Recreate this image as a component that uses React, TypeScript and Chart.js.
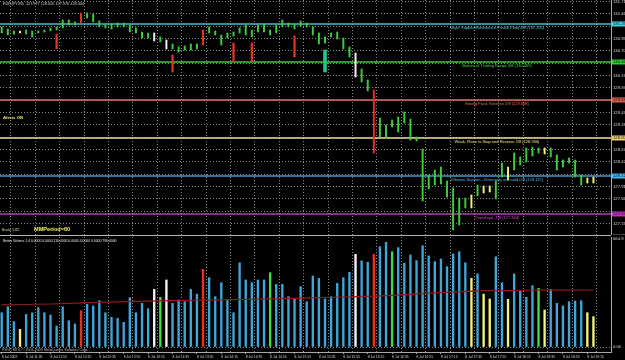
import React, { useEffect, useRef } from 'react';
import { Chart, registerables } from 'chart.js';

Chart.register(...registerables);

// ---------- DATA ----------
const barHigh = [
  131.188, 131.147, 131.106, 131.106, 131.127, 131.106, 131.106, 131.127, 131.168, 131.188,
  131.332, 131.332, 131.291, 131.476, 131.476, 131.456, 131.312, 131.229, 131.250, 131.271,
  131.271, 131.229, 131.168, 131.086, 131.065, 131.065, 130.983, 130.921, 130.839, 130.777,
  130.798, 130.839, 130.839, 131.127, 131.188, 131.106, 131.024, 131.065, 131.086, 131.168,
  131.229, 131.127, 131.229, 131.250, 131.127, 131.229, 131.332, 131.271, 131.250, 131.312,
  131.271, 131.188, 131.065, 130.983, 131.065, 131.086, 130.962, 130.777, 130.654, 130.325,
  130.099, 129.893, 129.317, 129.173, 129.276, 129.338, 129.441, 129.297, 128.927, 128.680,
  128.145, 128.248, 128.310, 128.022, 127.879, 127.673, 127.673, 127.735, 127.940, 127.920,
  127.920, 128.022, 128.392, 128.310, 128.598, 128.516, 128.701, 128.721, 128.701, 128.701,
  128.701, 128.557, 128.454, 128.495, 128.454, 128.145, 128.084, 128.104,
];
const barLow = [
  131.065, 131.024, 131.044, 131.065, 131.044, 130.983, 131.065, 131.086, 131.106, 131.127,
  131.168, 131.229, 131.229, 131.271, 131.373, 131.291, 131.188, 131.168, 131.147, 131.188,
  131.188, 131.086, 131.065, 130.962, 130.962, 130.901, 130.880, 130.736, 130.736, 130.674,
  130.715, 130.715, 130.736, 130.818, 131.065, 131.024, 130.818, 130.962, 131.003, 131.065,
  131.024, 130.983, 131.086, 131.086, 131.024, 131.065, 131.188, 131.188, 131.147, 131.209,
  131.188, 131.024, 130.839, 130.859, 130.983, 130.942, 130.736, 130.572, 130.160, 130.058,
  129.873, 128.598, 128.927, 128.906, 129.132, 129.029, 129.215, 128.865, 128.844, 127.611,
  127.858, 127.940, 127.961, 127.694, 127.015, 127.118, 127.468, 127.468, 127.714, 127.776,
  127.796, 127.653, 128.104, 128.043, 128.248, 128.351, 128.413, 128.536, 128.598, 128.577,
  128.516, 128.248, 128.310, 128.392, 128.104, 127.940, 127.981, 127.981,
];
// volume class of each bar: n normal, r climax, w high-volume churn, g churn, y low volume
const barType = [
  'n', 'n', 'n', 'y', 'n', 'n', 'n', 'n', 'n', 'n',
  'n', 'n', 'n', 'r', 'n', 'n', 'n', 'n', 'n', 'n',
  'n', 'n', 'n', 'n', 'n', 'w', 'g', 'w', 'n', 'n',
  'n', 'n', 'n', 'r', 'n', 'n', 'n', 'n', 'n', 'n',
  'n', 'n', 'n', 'n', 'g', 'n', 'n', 'n', 'n', 'n',
  'n', 'n', 'n', 'n', 'n', 'n', 'n', 'n', 'w', 'n',
  'n', 'r', 'n', 'n', 'g', 'n', 'n', 'n', 'n', 'n',
  'n', 'n', 'n', 'n', 'n', 'n', 'n', 'y', 'n', 'y',
  'y', 'n', 'n', 'y', 'n', 'n', 'n', 'n', 'g', 'y',
  'n', 'n', 'n', 'n', 'n', 'n', 'y', 'y',
];
const volume = [
  211, 248, 156, 109, 201, 211, 242, 211, 197, 129,
  248, 162, 142, 224, 263, 253, 285, 211, 183, 177,
  152, 304, 211, 269, 236, 355, 306, 413, 269, 290,
  279, 355, 326, 479, 427, 310, 396, 290, 211, 519,
  413, 396, 413, 413, 458, 386, 386, 310, 300, 372,
  279, 437, 423, 296, 310, 392, 427, 460, 571, 530,
  522, 571, 618, 645, 587, 612, 516, 567, 532, 624,
  561, 526, 542, 495, 573, 587, 519, 423, 450, 326,
  296, 556, 396, 294, 450, 345, 306, 378, 362, 228,
  355, 269, 253, 279, 283, 285, 211, 187,
];
// extra indicator bars drawn in the price window
const shadowIndex = [9, 28, 38, 41, 48, 53];
const shadowHigh = [131.044, 130.613, 130.859, 130.859, 131.003, 130.715];
const shadowLow = [130.736, 130.263, 130.469, 130.489, 130.572, 130.263];
const shadowType = ['r', 'r', 'r', 'r', 'r', 't'];
// volume moving average (read at a few bars)
const maIndex = [0, 8, 16, 24, 32, 40, 48, 56, 64, 72, 80, 88, 97];
const maValue = [259, 265, 275, 283, 288, 293, 300, 308, 318, 335, 347, 350, 351];
// Murrey math levels
const murreyLevels = [131.25, 130.469, 129.688, 128.906, 128.125, 127.344];
const murreyLabels = [
  'Major Support/Resistance Pivotal Point 4/8 (131.250)',
  'Bottom of Trading Range 3/8 (130.469)',
  'Strong Pivot, Reverse 2/8 (129.688)',
  'Weak, Place to Stop and Reverse 1/8 (128.906)',
  'Ultimate Support - Extremely oversold 0/8 (128.125)',
  'Overshoot -1/8 (127.344)',
];
const priceTicks = [
  131.71, 131.46, 131.2, 130.95, 130.7, 130.44, 130.19, 129.94, 129.68, 129.43,
  129.18, 128.92, 128.67, 128.42, 128.16, 127.91, 127.66, 127.4, 127.15, 126.9,
];
const volumeTicks = [0, 664.9];
const timeLabelIndex = [0, 4, 8, 12, 16, 20, 24, 28, 32, 36, 40, 44, 48, 52, 56, 60, 64, 68, 72, 76, 80, 84, 88, 92, 96];
const timeLabels = [
  '8 Jul 2009', '8 Jul 11:35', '8 Jul 11:55', '8 Jul 12:15', '8 Jul 12:35', '8 Jul 12:55',
  '8 Jul 13:15', '8 Jul 13:35', '8 Jul 13:55', '8 Jul 14:15', '8 Jul 14:35', '8 Jul 14:55',
  '8 Jul 15:15', '8 Jul 15:35', '8 Jul 15:55', '8 Jul 16:15', '8 Jul 16:35', '8 Jul 16:55',
  '8 Jul 17:15', '8 Jul 17:35', '8 Jul 17:55', '8 Jul 18:15', '8 Jul 18:35', '8 Jul 18:55',
  '8 Jul 19:15',
];
const titleText = 'EURJPY,M5  127.977 128.005 127.976 128.004';
const volumeTitle = 'Better Volume 1.4 0.0000 0.0000 116.0000 0.0000 0.0000 0.0000 796.0000';
const copyright = 'FXDR MT4, \u00a9 2001-2009 MetaQuotes Software Corp.';

// ---------- STYLE ----------
const FONT = 'Liberation Sans';
const X_MIN = -0.28;
const X_MAX = 99.88;
const PRICE_MIN = 126.912;
const PRICE_MAX = 131.743;
const VOL_MIN = -30.8;
const VOL_MAX = 677.6;
const GRID = '#8a8a8a';
const AXIS = '#a8a8a8';
const priceColorOf: Record<string, string> = { n: '#3ccc3c', g: '#3ccc3c', r: '#e8321e', w: '#f4f4f4', y: '#f2f27a', t: '#22c488' };
const volColorOf: Record<string, string> = { n: '#3ea6da', g: '#3ee03e', r: '#e8321e', w: '#f4f4f4', y: '#f2f27a' };
const murreyLineColors = ['#3cc0d0', '#3cc83c', '#e07060', '#e8dc98', '#4a98c8', '#b040b0'];
const murreyTextColors = ['#50d0e0', '#40d840', '#f07060', '#f0e490', '#5ab0e8', '#d050d0'];
const murreyBoxColors = ['#40d0e0', '#30d030', '#e06050', '#e8d070', '#40b8f0', '#c030c0'];
const gridIndex: number[] = [];
for (let k = 0; k < 25; k++) gridIndex.push(1.5 + 4 * k);

const noPadX = (s: any) => { s.paddingLeft = 0; s.paddingRight = 0; };
const noPadY = (s: any) => { s.paddingTop = 0; s.paddingBottom = 0; };

function gridAxis() {
  return {
    type: 'linear' as const,
    axis: 'x' as const,
    position: 'bottom' as const,
    offset: false,
    min: X_MIN,
    max: X_MAX,
    afterBuildTicks: (s: any) => { s.ticks = gridIndex.map((v) => ({ value: v })); },
    afterFit: (s: any) => { s.height = 0; noPadX(s); },
    ticks: { display: false },
    grid: { color: GRID, lineWidth: 1, drawTicks: false, offset: false },
    border: { display: false, dash: [1, 2] },
  };
}

export default function App() {
  const topRef = useRef<HTMLCanvasElement>(null);
  const botRef = useRef<HTMLCanvasElement>(null);

  useEffect(() => {
    const topTexts = {
      id: 'topTexts',
      afterDraw(chart: any) {
        const { ctx, chartArea } = chart;
        const y = chart.scales.y;
        ctx.save();
        ctx.textAlign = 'center';
        ctx.textBaseline = 'top';
        ctx.font = `4px "${FONT}"`;
        murreyLevels.forEach((lv, k) => {
          const py = y.getPixelForValue(lv);
          ctx.fillStyle = murreyTextColors[k];
          ctx.fillText(murreyLabels[k], chartArea.right - 114, py + 1.5);
        });
        ctx.textAlign = 'left';
        ctx.textBaseline = 'middle';
        ctx.font = `4.2px "${FONT}"`;
        murreyLevels.forEach((lv, k) => {
          const py = y.getPixelForValue(lv);
          ctx.fillStyle = murreyBoxColors[k];
          ctx.fillRect(chartArea.right + 1, py - 2.5, 14, 5);
          ctx.fillStyle = '#101010';
          ctx.fillText(lv.toFixed(3), chartArea.right + 2, py);
        });
        ctx.textBaseline = 'top';
        ctx.font = `3.8px "${FONT}"`;
        ctx.fillStyle = '#d0d0d0';
        ctx.fillText(titleText, 3, 2);
        ctx.font = `bold 4.4px "${FONT}"`;
        ctx.fillStyle = '#e8e870';
        ctx.fillText('Alerts ON', 3, 116);
        ctx.font = `3.8px "${FONT}"`;
        ctx.fillStyle = '#d8d8a8';
        ctx.fillText('Brats 1.82', 2, 228.5);
        ctx.font = `bold 5.6px "${FONT}"`;
        ctx.fillStyle = '#f0f060';
        ctx.fillText('MMPeriod=60', 34, 226.5);
        ctx.restore();
      },
    };

    const top = new Chart(topRef.current as HTMLCanvasElement, {
      type: 'bar',
      data: {
        datasets: [
          ...murreyLevels.map((lv, k) => ({
            type: 'line' as const,
            xAxisID: 'x',
            yAxisID: 'y',
            data: [{ x: X_MIN, y: lv }, { x: X_MAX, y: lv }],
            borderColor: murreyLineColors[k],
            borderWidth: 1.6,
            pointRadius: 0,
            order: 5,
          })),
          {
            type: 'bar' as const,
            xAxisID: 'x',
            yAxisID: 'y',
            data: barHigh.map((h, i) => ({ x: i, y: [barLow[i], h] })),
            backgroundColor: barType.map((t) => priceColorOf[t]),
            barThickness: 1.3,
            grouped: false,
            order: 1,
          },
          {
            type: 'bar' as const,
            xAxisID: 'x',
            yAxisID: 'y',
            data: shadowIndex
              .map((x, k) => ({ x, y: [shadowLow[k], shadowHigh[k]], t: shadowType[k] }))
              .filter((d) => d.t === 'r'),
            backgroundColor: priceColorOf.r,
            barThickness: 1.6,
            grouped: false,
            order: 2,
          },
          {
            type: 'bar' as const,
            xAxisID: 'x',
            yAxisID: 'y',
            data: shadowIndex
              .map((x, k) => ({ x, y: [shadowLow[k], shadowHigh[k]], t: shadowType[k] }))
              .filter((d) => d.t === 't'),
            backgroundColor: priceColorOf.t,
            barThickness: 3,
            grouped: false,
            order: 2,
          },
        ] as any,
      },
      options: {
        responsive: false,
        animation: false,
        devicePixelRatio: 1,
        layout: { padding: 0 },
        plugins: { legend: { display: false }, tooltip: { enabled: false } },
        scales: {
          x: { type: 'linear', offset: false, min: X_MIN, max: X_MAX, display: false },
          xg: gridAxis() as any,
          y: {
            type: 'linear',
            position: 'right',
            min: PRICE_MIN,
            max: PRICE_MAX,
            afterBuildTicks: (s: any) => { s.ticks = priceTicks.map((v) => ({ value: v })); },
            afterFit: (s: any) => { s.width = 14; noPadY(s); },
            ticks: {
              color: '#d8d8d8',
              font: { family: FONT, size: 4.2 },
              padding: 2,
              autoSkip: false,
              callback: (v: any) =>
                murreyLevels.some((lv) => Math.abs(lv - Number(v)) < 0.1) ? '' : Number(v).toFixed(3),
            },
            grid: { color: GRID, drawTicks: false },
            border: { color: AXIS, dash: [1, 2] },
          },
        },
      },
      plugins: [topTexts],
    });

    const botTexts = {
      id: 'botTexts',
      afterDraw(chart: any) {
        const { ctx, chartArea } = chart;
        ctx.save();
        ctx.textAlign = 'left';
        ctx.textBaseline = 'top';
        ctx.font = `3.4px "${FONT}"`;
        ctx.fillStyle = '#e8e8e8';
        ctx.fillText(volumeTitle, 3, chartArea.top + 2);
        ctx.textBaseline = 'bottom';
        ctx.font = `3.6px "${FONT}"`;
        ctx.fillStyle = '#b8b8b8';
        ctx.fillText(copyright, 2, chartArea.bottom - 0.5);
        ctx.restore();
      },
    };

    const bot = new Chart(botRef.current as HTMLCanvasElement, {
      type: 'bar',
      data: {
        datasets: [
          {
            type: 'bar' as const,
            xAxisID: 'x',
            yAxisID: 'y',
            data: volume.map((v, i) => ({ x: i, y: v })),
            backgroundColor: barType.map((t) => volColorOf[t]),
            barThickness: 1.7,
            grouped: false,
            order: 2,
          },
          {
            type: 'line' as const,
            xAxisID: 'x',
            yAxisID: 'y',
            data: maIndex.map((x, k) => ({ x, y: maValue[k] })),
            borderColor: '#8e1c1c',
            borderWidth: 1.2,
            pointRadius: 0,
            tension: 0.3,
            order: 1,
          },
        ] as any,
      },
      options: {
        responsive: false,
        animation: false,
        devicePixelRatio: 1,
        layout: { padding: { top: 1, left: 0, right: 0, bottom: 0 } },
        plugins: { legend: { display: false }, tooltip: { enabled: false } },
        scales: {
          x: {
            type: 'linear',
            position: 'bottom',
            offset: false,
            min: X_MIN,
            max: X_MAX,
            afterBuildTicks: (s: any) => { s.ticks = timeLabelIndex.map((v) => ({ value: v })); },
            afterFit: (s: any) => { s.height = 8; noPadX(s); },
            ticks: {
              color: '#d8d8d8',
              font: { family: FONT, size: 3.4 },
              align: 'start',
              autoSkip: false,
              maxRotation: 0,
              padding: 1,
              callback: (v: any) => {
                const k = timeLabelIndex.indexOf(Number(v));
                return k >= 0 ? timeLabels[k] : '';
              },
            },
            grid: { drawOnChartArea: false, drawTicks: true, tickLength: 2, tickColor: AXIS, color: AXIS, offset: false },
            border: { color: AXIS },
          },
          xg: gridAxis() as any,
          y: {
            type: 'linear',
            position: 'right',
            min: VOL_MIN,
            max: VOL_MAX,
            afterBuildTicks: (s: any) => { s.ticks = volumeTicks.map((v) => ({ value: v })); },
            afterFit: (s: any) => { s.width = 14; noPadY(s); },
            ticks: {
              color: '#d8d8d8',
              font: { family: FONT, size: 4.2 },
              padding: 2,
              autoSkip: false,
              callback: (v: any) => (Number(v) === 0 ? '0.00' : Number(v).toFixed(1)),
            },
            grid: {
              color: (c: any) => (c.tick && c.tick.value === 0 ? GRID : 'rgba(0,0,0,0)'),
              drawTicks: false,
            },
            border: { color: AXIS, dash: [1, 2] },
          },
        },
      },
      plugins: [botTexts],
    });

    return () => {
      top.destroy();
      bot.destroy();
    };
  }, []);

  return (
    <div
      style={{
        position: 'fixed',
        left: 0,
        top: 0,
        width: 625,
        height: 360,
        background: '#000',
        overflow: 'hidden',
      }}
    >
      <canvas ref={topRef} width={625} height={235} style={{ position: 'absolute', left: 0, top: 0 }} />
      <div style={{ position: 'absolute', left: 0, top: 235, width: 611, height: 1, background: '#b4b4b4' }} />
      <canvas ref={botRef} width={625} height={124} style={{ position: 'absolute', left: 0, top: 236 }} />
    </div>
  );
}
